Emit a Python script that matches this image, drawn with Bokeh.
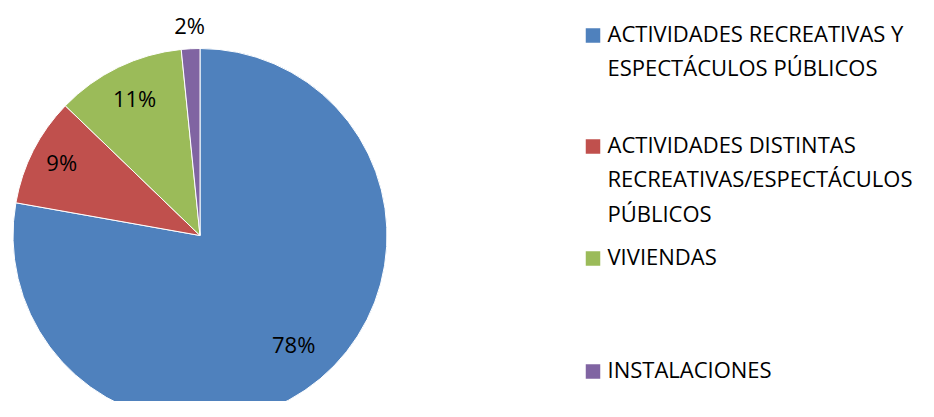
import numpy as np
from bokeh.plotting import figure
from bokeh.models import Range1d, ColumnDataSource
from bokeh.core.properties import value
from bokeh.embed import file_html
from bokeh.resources import INLINE

# ---- data ----
categories = [
    "ACTIVIDADES RECREATIVAS Y ESPECTÁCULOS PÚBLICOS",
    "ACTIVIDADES DISTINTAS RECREATIVAS/ESPECTÁCULOS PÚBLICOS",
    "VIVIENDAS",
    "INSTALACIONES",
]
legend_lines = [
    ["ACTIVIDADES RECREATIVAS Y", "ESPECTÁCULOS PÚBLICOS"],
    ["ACTIVIDADES DISTINTAS", "RECREATIVAS/ESPECTÁCULOS", "PÚBLICOS"],
    ["VIVIENDAS"],
    ["INSTALACIONES"],
]
shares = [77.8, 9.4, 11.2, 1.6]
colors = ["#4F81BD", "#C0504D", "#9BBB59", "#8064A2"]

# ---- layout (screen pixel coords, y measured from top) ----
W, H = 918, 401
FONT = "Open Sans"
cx, cy_pix, R = 199.5, 235.0, 187.0
label_r = [0.78, 0.83, 0.80, 1.11]
legend_sq_x = 592.5
legend_text_x = 607
legend_mid_pix = [35, 146, 258, 371]   # cap centre of first line
line_step = 34.5
sq_size = 14.5
text_raise = 3  # svg "middle" sits slightly below cap centre


def Y(ypix):
    return H - ypix


p = figure(width=W, height=H, output_backend="svg", toolbar_location=None,
           x_range=Range1d(0, W), y_range=Range1d(0, H),
           x_axis_type=None, y_axis_type=None, min_border=0,
           background_fill_color="white", border_fill_color="white")
p.outline_line_color = None
p.grid.visible = False

fr = np.array(shares) / np.sum(shares)
cum = np.concatenate([[0.0], np.cumsum(fr)])
start = np.pi / 2 - 2 * np.pi * cum[:-1]
end = np.pi / 2 - 2 * np.pi * cum[1:]
cy = Y(cy_pix)

src = ColumnDataSource(dict(start=start, end=end, color=colors))
p.wedge(x=cx, y=cy, radius=R, start_angle="start", end_angle="end",
        direction="clock", fill_color="color", line_color="white",
        line_width=1, source=src)

mid = np.pi / 2 - 2 * np.pi * (cum[:-1] + fr / 2)
fs = 22
lx = cx + np.array(label_r) * R * np.cos(mid)
ly = cy + np.array(label_r) * R * np.sin(mid) + text_raise
labels = [f"{round(s)}%" for s in shares]
p.text(x=lx, y=ly, text=labels, text_align="center", text_baseline="middle",
       text_font=value(FONT), text_font_size=f"{fs}px", text_color="black")

# legend
lfs = 22
sq_x, sq_y, tx, ty, tt = [], [], [], [], []
for i, lines in enumerate(legend_lines):
    m = legend_mid_pix[i]
    sq_x.append(legend_sq_x)
    sq_y.append(Y(m))
    for j, ln in enumerate(lines):
        tx.append(legend_text_x)
        ty.append(Y(m + j * line_step) + text_raise)
        tt.append(ln)
p.rect(x=sq_x, y=sq_y, width=sq_size, height=sq_size, fill_color=colors,
       line_color=None)
p.text(x=tx, y=ty, text=tt, text_align="left", text_baseline="middle",
       text_font=value(FONT), text_font_size=f"{lfs}px", text_color="black")

open("out.html", "w").write(file_html(p, INLINE))
